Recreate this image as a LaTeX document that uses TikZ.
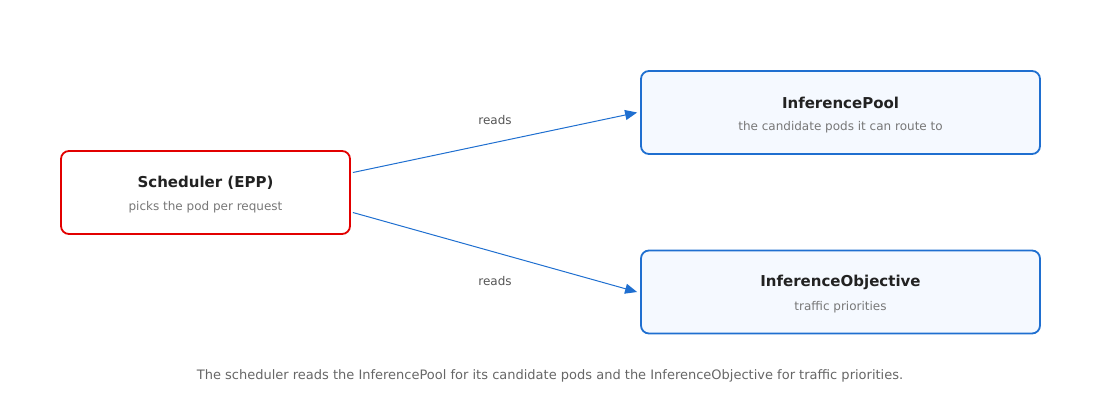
\documentclass[tikz,border=0pt]{standalone}
\usepackage{fontspec}
\setmainfont{DejaVu Sans}
\usetikzlibrary{arrows.meta}
\definecolor{redb}{RGB}{226,0,0}
\definecolor{blueb}{RGB}{31,111,208}
\definecolor{bluefill}{RGB}{245,249,255}
\definecolor{titlec}{RGB}{34,34,34}
\definecolor{subc}{RGB}{119,119,119}
\definecolor{capc}{RGB}{102,102,102}
\definecolor{lblc}{RGB}{85,85,85}
\tikzset{
  box/.style={rounded corners=8pt, line width=1.8pt, inner sep=0pt, minimum height=83pt},
  sched/.style={box, draw=redb, fill=white, minimum width=289pt},
  res/.style={box, draw=blueb, fill=bluefill, minimum width=399pt},
  ttl/.style={inner sep=0pt, text=titlec, font=\fontsize{15}{18}\selectfont\bfseries},
  sub/.style={inner sep=0pt, text=subc, font=\fontsize{12}{14}\selectfont},
  lbl/.style={inner sep=0pt, text=lblc, font=\fontsize{12}{14}\selectfont},
  arr/.style={draw=blueb, line width=1pt, -{Triangle[length=12pt,width=10pt]}},
}
\begin{document}
\begin{tikzpicture}[x=1pt,y=-1pt]
\useasboundingbox (0,0) rectangle (1100,400);
\node[sched] (sch) at (205.5,192.5) {};
\node[res] (pool) at (840.5,112.5) {};
\node[res] (obj) at (840.5,292) {};
\node[ttl] (schT) at (205.5,182.5) {Scheduler (EPP)};
\node[sub] (schS) at (205.5,207.5) {picks the pod per request};
\node[ttl] (poolT) at (840.5,102.5) {InferencePool};
\node[sub] (poolS) at (840.5,127.5) {the candidate pods it can route to};
\node[ttl] (objT) at (840.5,282.5) {InferenceObjective};
\node[sub] (objS) at (840.5,307.5) {traffic priorities};
\draw[arr] ([xshift=2pt,yshift=20pt]sch.east) -- ([xshift=-3pt]pool.west)
  node[lbl, midway, yshift=22.5pt] (l1) {reads};
\draw[arr] ([xshift=2pt,yshift=-20pt]sch.east) -- ([xshift=-3pt]obj.west)
  node[lbl, midway, yshift=-28.5pt] (l2) {reads};
\node[inner sep=0pt, text=capc, font=\fontsize{13}{15}\selectfont] (cap) at (550,375.5)
  {The scheduler reads the InferencePool for its candidate pods and the InferenceObjective for traffic priorities.};
\end{tikzpicture}
\end{document}
